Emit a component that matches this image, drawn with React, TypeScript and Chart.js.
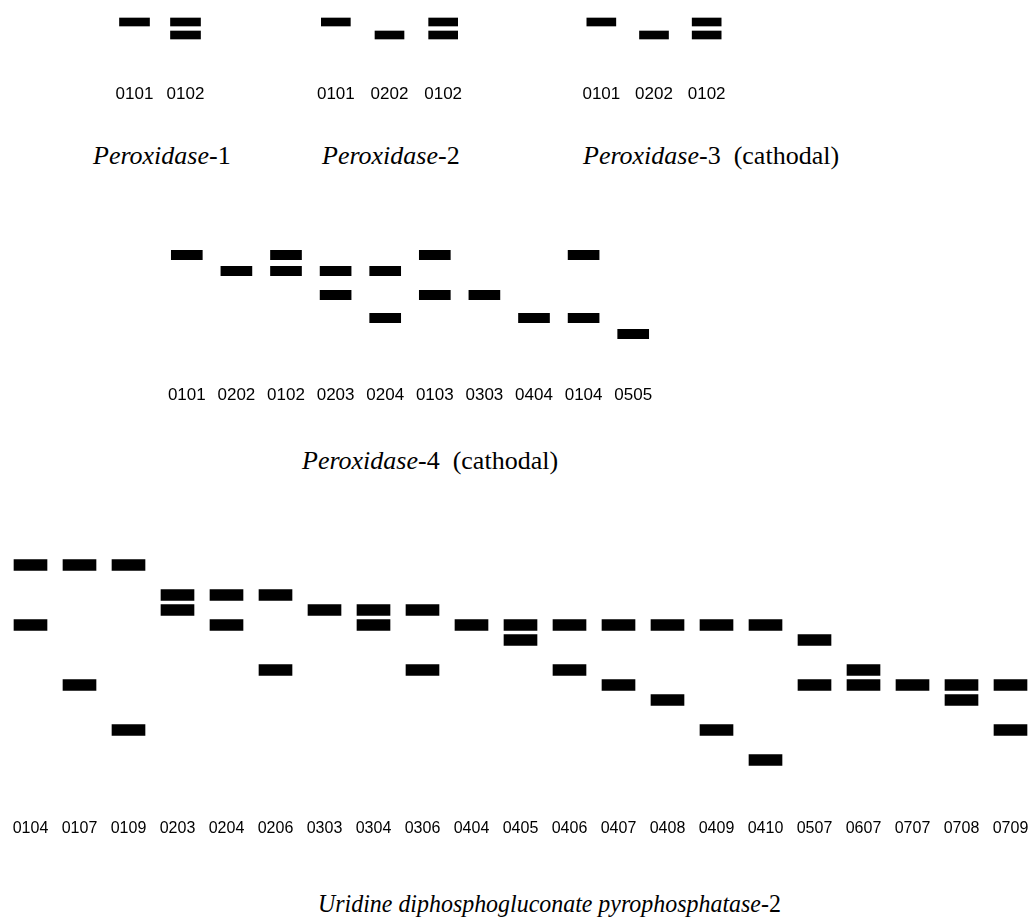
import React, { useEffect, useRef } from 'react';
import { Chart, registerables } from 'chart.js';

Chart.register(...registerables);

// ---------- Data (relative migration distance, arbitrary units; larger = further from origin) ----------
// Peroxidase-1
const per1Genotypes = ['0101', '0102'];
const per1FastBand: (number | null)[] = [2.2, 2.2];
const per1SlowBand: (number | null)[] = [null, 3.5];

// Peroxidase-2
const per2Genotypes = ['0101', '0202', '0102'];
const per2FastBand: (number | null)[] = [2.2, null, 2.2];
const per2SlowBand: (number | null)[] = [null, 3.5, 3.5];

// Peroxidase-3 (cathodal)
const per3Genotypes = ['0101', '0202', '0102'];
const per3FastBand: (number | null)[] = [2.2, null, 2.2];
const per3SlowBand: (number | null)[] = [null, 3.5, 3.5];

// Peroxidase-4 (cathodal)
const per4Genotypes = ['0101', '0202', '0102', '0203', '0204', '0103', '0303', '0404', '0104', '0505'];
const per4FastBand: (number | null)[] = [1.5, 3.1, 1.5, 3.1, 3.1, 1.5, 5.5, 7.8, 1.5, 9.4];
const per4SlowBand: (number | null)[] = [null, null, 3.1, 5.5, 7.8, 5.5, null, null, 7.8, null];

// Uridine diphosphogluconate pyrophosphatase-2
const udpGenotypes = [
  '0104', '0107', '0109', '0203', '0204', '0206', '0303', '0304', '0306', '0404', '0405',
  '0406', '0407', '0408', '0409', '0410', '0507', '0607', '0707', '0708', '0709',
];
const udpFastBand: (number | null)[] = [
  1.5, 1.5, 1.5, 4.5, 4.5, 4.5, 6.0, 6.0, 6.0, 7.5, 7.5,
  7.5, 7.5, 7.5, 7.5, 7.5, 9.0, 12.0, 13.5, 13.5, 13.5,
];
const udpSlowBand: (number | null)[] = [
  7.5, 13.5, 18.0, 6.0, 7.5, 12.0, null, 7.5, 12.0, null, 9.0,
  12.0, 13.5, 15.0, 18.0, 21.0, 13.5, 13.5, null, 15.0, 18.0,
];

// ---------- Styles ----------
const LABEL_FONT = "'Liberation Sans', Arial, sans-serif";
const TITLE_FONT = "'Liberation Serif', 'Times New Roman', serif";

type PanelProps = {
  genotypes: string[];
  series: (number | null)[][];
  left: number;
  top: number;
  width: number;
  height: number;
  yMax: number;
  bandWidth: number;
  bandHalf: number;
  fontSize: number;
  labelGap: number;
};

function Zymogram(p: PanelProps) {
  const ref = useRef<HTMLCanvasElement>(null);
  useEffect(() => {
    if (!ref.current) return;
    const chart = new Chart(ref.current, {
      type: 'bar',
      data: {
        labels: p.genotypes,
        datasets: p.series.map((s, i) => ({
          label: `band ${i + 1}`,
          data: s.map((v) => (v == null ? null : [v - p.bandHalf, v + p.bandHalf])) as any,
          backgroundColor: '#000',
          borderWidth: 0,
          borderSkipped: false,
          barThickness: p.bandWidth,
          grouped: false,
        })),
      },
      options: {
        responsive: false,
        maintainAspectRatio: false,
        animation: false,
        events: [],
        layout: { padding: 0 },
        plugins: {
          legend: { display: false },
          tooltip: { enabled: false },
          title: { display: false },
        },
        scales: {
          x: {
            offset: true,
            grid: { display: false, drawTicks: true, tickLength: p.labelGap },
            border: { display: false },
            ticks: {
              color: '#000',
              font: { family: LABEL_FONT, size: p.fontSize, lineHeight: 1 },
              padding: 0,
              autoSkip: false,
              maxRotation: 0,
              minRotation: 0,
            },
          },
          y: { display: false, reverse: true, min: 0, max: p.yMax },
        },
      } as any,
    });
    return () => chart.destroy();
  }, []);
  return (
    <canvas
      ref={ref}
      width={p.width}
      height={p.height}
      style={{ position: 'absolute', left: p.left, top: p.top, width: p.width, height: p.height }}
    />
  );
}

function Title({
  left,
  top,
  squeeze = 1,
  children,
}: {
  left: number;
  top: number;
  squeeze?: number;
  children: React.ReactNode;
}) {
  return (
    <div
      style={{
        position: 'absolute',
        left,
        top,
        fontFamily: TITLE_FONT,
        fontSize: 26,
        lineHeight: '26px',
        whiteSpace: 'pre',
        color: '#000',
        transform: squeeze !== 1 ? `scaleX(${squeeze})` : undefined,
        transformOrigin: 'left top',
      }}
    >
      {children}
    </div>
  );
}

export default function App() {
  return (
    <div
      style={{
        position: 'absolute',
        left: 0,
        top: 0,
        width: 1031,
        height: 921,
        overflow: 'hidden',
        background: '#fff',
      }}
    >
      <Zymogram
        genotypes={per1Genotypes}
        series={[per1FastBand, per1SlowBand]}
        left={109} top={0} width={102} height={103}
        yMax={6} bandWidth={30} bandHalf={0.4}
        fontSize={17} labelGap={26}
      />
      <Zymogram
        genotypes={per2Genotypes}
        series={[per2FastBand, per2SlowBand]}
        left={309} top={0} width={161} height={103}
        yMax={6} bandWidth={29} bandHalf={0.4}
        fontSize={17} labelGap={26}
      />
      <Zymogram
        genotypes={per3Genotypes}
        series={[per3FastBand, per3SlowBand]}
        left={575} top={0} width={158} height={103}
        yMax={6} bandWidth={29} bandHalf={0.4}
        fontSize={17} labelGap={26}
      />
      <Title left={93} top={143}><i>Peroxidase</i>-1</Title>
      <Title left={322} top={143}><i>Peroxidase</i>-2</Title>
      <Title left={583} top={143}><i>Peroxidase</i>-3{'  '}(cathodal)</Title>

      <Zymogram
        genotypes={per4Genotypes}
        series={[per4FastBand, per4SlowBand]}
        left={162} top={240} width={496} height={164}
        yMax={12} bandWidth={31} bandHalf={0.47}
        fontSize={17} labelGap={27}
      />
      <Title left={302} top={448}><i>Peroxidase</i>-4{'  '}(cathodal)</Title>

      <Zymogram
        genotypes={udpGenotypes}
        series={[udpFastBand, udpSlowBand]}
        left={6} top={550} width={1029} height={287}
        yMax={25} bandWidth={33} bandHalf={0.55}
        fontSize={16} labelGap={21}
      />
      <Title left={318} top={891} squeeze={0.92}>
        <i>Uridine diphosphogluconate pyrophosphatase</i>-2
      </Title>
    </div>
  );
}
